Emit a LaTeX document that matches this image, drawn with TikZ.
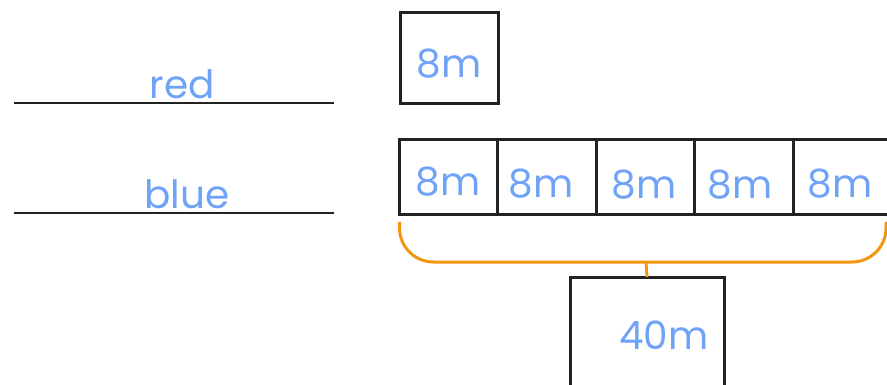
\documentclass[tikz,border=0pt]{standalone}
\usepackage{fontspec}
\setmainfont{Poppins}
\definecolor{ink}{HTML}{6FA3F8}
\definecolor{brace}{HTML}{F2950F}
\definecolor{edge}{HTML}{222222}
\begin{document}
\begin{tikzpicture}[x=1pt,y=-1pt,
  box/.style={draw=edge,line width=3pt,fill=none,inner sep=0pt,outer sep=0pt},
  hand/.style={text=ink,font=\fontsize{39}{39}\selectfont,inner sep=0pt,anchor=base},
  rule/.style={draw=edge,line width=2pt},
  bracepath/.style={draw=brace,line width=3pt,rounded corners=34pt}]
\useasboundingbox (0,0) rectangle (887,385);
% left labels
\coordinate (r1) at (14,103.5);
\coordinate (r2) at (334,103.5);
\coordinate (b1) at (14,213);
\coordinate (b2) at (334,213);
\draw[rule] (r1) -- (r2);
\draw[rule] (b1) -- (b2);
\node[hand] (red) at (182,99) {red};
\node[hand] (blue) at (187,208) {blue};
% red box
\node[box,minimum width=98pt,minimum height=91pt] (rb) at (449,58) {};
\node[hand] (rt) at (449,78) {8m};
% blue boxes
\node[box,minimum width=98.5pt,minimum height=75pt] (bb1) at (448.5,177.5) {};
\node[box,minimum width=98.5pt,minimum height=75pt] (bb2) at (547,177.5) {};
\node[box,minimum width=98.5pt,minimum height=75pt] (bb3) at (645.5,177.5) {};
\node[box,minimum width=98.5pt,minimum height=75pt] (bb4) at (744,177.5) {};
\node[box,minimum width=98.5pt,minimum height=75pt] (bb5) at (842.5,177.5) {};
\node[hand] (t1) at (448,196) {8m};
\node[hand] (t2) at (541,198) {8m};
\node[hand] (t3) at (644,199) {8m};
\node[hand] (t4) at (740,199) {8m};
\node[hand] (t5) at (840,197) {8m};
% brace
\coordinate (bl) at (399.5,222);
\coordinate (br) at (886,222);
\coordinate (bm) at (646,262);
\draw[bracepath] (bl) -- (399.5,262) -- (886,262) -- (br);
% total box
\node[box,minimum width=154pt,minimum height=130pt] (tot) at (647,342) {};
\draw[draw=brace,line width=3pt] (bm) -- (tot.north);
\node[hand] (tt) at (664,349) {40m};
\end{tikzpicture}
\end{document}
